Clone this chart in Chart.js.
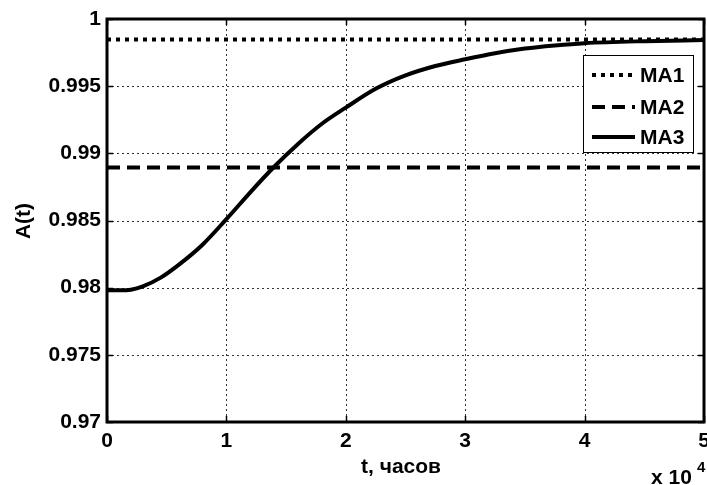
<!DOCTYPE html>
<html>
<head>
<meta charset="utf-8">
<script src="https://cdn.jsdelivr.net/npm/chart.js@4/dist/chart.umd.min.js"></script>
<style>
html,body{margin:0;padding:0;background:#fff;}
#wrap{width:707px;height:485px;position:relative;}
</style>
</head>
<body>
<div id="wrap"><canvas id="c" width="707" height="485"></canvas></div>
<script>
// Data (t in units of 10^4 hours)
const tValues = [0, 0.1, 0.2, 0.3, 0.45, 0.6, 0.8, 1.0, 1.2, 1.4, 1.6, 1.8, 2.0, 2.25, 2.5, 2.75, 3.0, 3.25, 3.5, 3.75, 4.0, 4.5, 5.0];
const ma3Values = [0.9798, 0.9798, 0.97985, 0.9801, 0.98075, 0.9817, 0.9832, 0.9851, 0.9871, 0.9890, 0.9907, 0.9922, 0.9934, 0.9948, 0.9958, 0.9965, 0.9970, 0.99745, 0.9978, 0.99803, 0.9982, 0.99835, 0.99843];
const ma1Value = 0.99847;
const ma2Value = 0.98895;
const seriesNames = ['MA1', 'MA2', 'MA3'];
const xTicks = [0, 1, 2, 3, 4, 5];
const yTicks = [0.97, 0.975, 0.98, 0.985, 0.99, 0.995, 1];

const FAM = '"Liberation Sans", Arial, sans-serif';
const FONT = 'bold 21px ' + FAM;

const ma1Data = [{x: xTicks[0], y: ma1Value}, {x: xTicks[xTicks.length-1], y: ma1Value}];
const ma2Data = [{x: xTicks[0], y: ma2Value}, {x: xTicks[xTicks.length-1], y: ma2Value}];
const ma3Data = tValues.map((t, i) => ({x: t, y: ma3Values[i]}));

const gridPlugin = {
  id: 'dotgrid',
  beforeDatasetsDraw(chart) {
    const {ctx, chartArea: a, scales} = chart;
    ctx.save();
    ctx.strokeStyle = '#333';
    ctx.lineWidth = 1;
    ctx.setLineDash([2, 3]);
    scales.x.ticks.forEach(t => {
      const x = Math.round(scales.x.getPixelForValue(t.value)) + 0.5;
      ctx.beginPath(); ctx.moveTo(x, a.top); ctx.lineTo(x, a.bottom); ctx.stroke();
    });
    scales.y.ticks.forEach(t => {
      const y = Math.round(scales.y.getPixelForValue(t.value)) + 0.5;
      ctx.beginPath(); ctx.moveTo(a.left, y); ctx.lineTo(a.right, y); ctx.stroke();
    });
    ctx.restore();
  }
};

const framePlugin = {
  id: 'frame',
  afterDatasetsDraw(chart) {
    const {ctx, chartArea: a, scales} = chart;
    ctx.save();
    ctx.strokeStyle = '#000';
    ctx.lineWidth = 1.5;
    ctx.setLineDash([]);
    xTicks.forEach(v => {
      const x = Math.round(scales.x.getPixelForValue(v)) + 0.5;
      ctx.beginPath();
      ctx.moveTo(x, a.bottom); ctx.lineTo(x, a.bottom - 6);
      ctx.moveTo(x, a.top); ctx.lineTo(x, a.top + 6);
      ctx.stroke();
    });
    yTicks.forEach(v => {
      const y = Math.round(scales.y.getPixelForValue(v)) + 0.5;
      ctx.beginPath();
      ctx.moveTo(a.left, y); ctx.lineTo(a.left + 6, y);
      ctx.moveTo(a.right, y); ctx.lineTo(a.right - 6, y);
      ctx.stroke();
    });
    ctx.lineWidth = 3;
    ctx.strokeRect(a.left, a.top, a.right - a.left, a.bottom - a.top);

    // legend
    const lx = 583, ly = 55, lw = 110, lh = 97;
    ctx.fillStyle = '#fff';
    ctx.fillRect(lx, ly, lw, lh);
    ctx.lineWidth = 1;
    ctx.strokeRect(lx + 0.5, ly + 0.5, lw, lh);
    const dsets = chart.data.datasets;
    const rows = [75, 107, 137];
    ctx.font = FONT;
    ctx.textBaseline = 'middle';
    ctx.textAlign = 'left';
    dsets.forEach((d, i) => {
      const y = rows[i];
      ctx.beginPath();
      ctx.lineWidth = d.borderWidth;
      ctx.setLineDash(d.borderDash || []);
      ctx.strokeStyle = '#000';
      ctx.moveTo(592, y); ctx.lineTo(635, y);
      ctx.stroke();
      ctx.setLineDash([]);
      ctx.fillStyle = '#000';
      ctx.fillText(d.label, 640, y + 1);
    });

    // titles
    ctx.fillStyle = '#000';
    ctx.font = FONT;
    ctx.textAlign = 'center';
    ctx.textBaseline = 'alphabetic';
    ctx.fillText('t, часов', 401, 473);
    ctx.save();
    ctx.translate(30, 221);
    ctx.rotate(-Math.PI / 2);
    ctx.fillText('A(t)', 0, 0);
    ctx.restore();
    ctx.textAlign = 'left';
    ctx.fillText('x 10', 651, 484);
    ctx.font = 'bold 15px ' + FAM;
    ctx.fillText('4', 697, 472);
    ctx.restore();
  }
};

new Chart(document.getElementById('c'), {
  type: 'scatter',
  data: {
    datasets: [
      {label: seriesNames[0], data: ma1Data, showLine: true, borderColor: '#000', borderWidth: 4, borderDash: [4, 5], pointRadius: 0, fill: false},
      {label: seriesNames[1], data: ma2Data, showLine: true, borderColor: '#000', borderWidth: 4, borderDash: [13, 7], pointRadius: 0, fill: false},
      {label: seriesNames[2], data: ma3Data, showLine: true, borderColor: '#000', borderWidth: 4, cubicInterpolationMode: 'monotone', pointRadius: 0, fill: false}
    ]
  },
  options: {
    responsive: false,
    animation: false,
    devicePixelRatio: 1,
    layout: {padding: {top: 19, right: 3, left: 0, bottom: 0}},
    plugins: {legend: {display: false}, tooltip: {enabled: false}},
    scales: {
      x: {
        type: 'linear', min: 0, max: 5,
        afterBuildTicks(s) { s.ticks = xTicks.map(v => ({value: v})); },
        afterFit(s) { s.height = 63; s.paddingLeft = 0; s.paddingRight = 0; },
        grid: {display: false, drawTicks: false},
        border: {display: false},
        ticks: {color: '#000', font: {family: FAM, size: 21, weight: 'bold'}, padding: 7, maxRotation: 0, callback: v => String(v)}
      },
      y: {
        type: 'linear', min: 0.97, max: 1,
        afterBuildTicks(s) { s.ticks = yTicks.map(v => ({value: v})); },
        afterFit(s) { s.width = 107; s.paddingTop = 0; s.paddingBottom = 0; },
        grid: {display: false, drawTicks: false},
        border: {display: false},
        ticks: {color: '#000', font: {family: FAM, size: 21, weight: 'bold'}, padding: 6, callback: v => String(+v.toFixed(3))}
      }
    }
  },
  plugins: [gridPlugin, framePlugin]
});
</script>
</body>
</html>
